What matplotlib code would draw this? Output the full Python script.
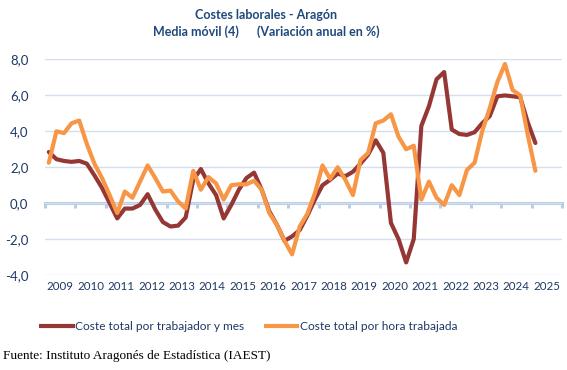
import numpy as np
import matplotlib
matplotlib.use("Agg")
import matplotlib.pyplot as plt

# Media movil (4), variacion anual en %, trimestral 2009T1 - 2025T1
years = list(range(2009, 2026))
trabajador_mes = [2.85, 2.45, 2.35, 2.3, 2.35, 2.2, 1.55, 0.85, 0.0, -0.85, -0.3, -0.3, -0.1,
                  0.5, -0.35, -1.05, -1.3, -1.25, -0.8, 1.3, 1.9, 1.1, 0.45, -0.85, -0.1, 0.75,
                  1.4, 1.7, 0.75, -0.45, -1.2, -2.1, -1.85, -1.5, -0.7, 0.2, 1.0, 1.3, 1.65,
                  1.5, 1.75, 2.2, 2.7, 3.5, 2.8, -1.1, -2.0, -3.3, -2.0, 4.3, 5.4, 6.9, 7.3,
                  4.1, 3.85, 3.8, 3.95, 4.45, 4.85, 5.95, 6.0, 5.95, 5.9, 4.5, 3.35]
hora_trabajada = [2.25, 4.0, 3.9, 4.45, 4.6, 3.3, 2.2, 1.4, 0.45, -0.55, 0.65, 0.3, 1.2,
                  2.1, 1.4, 0.65, 0.7, 0.1, -0.3, 1.8, 0.75, 1.45, 1.1, 0.2, 1.0, 1.05,
                  1.05, 1.25, 0.75, -0.55, -1.2, -2.1, -2.85, -1.3, -0.6, 0.55, 2.1, 1.35, 2.0,
                  1.3, 0.45, 2.4, 2.8, 4.45, 4.6, 4.95, 3.7, 3.0, 3.2, 0.2, 1.2, 0.3, -0.1,
                  1.0, 0.45, 1.85, 2.25, 4.0, 5.3, 6.75, 7.75, 6.3, 6.0, 3.8, 1.8]
yticks = [-4, -2, 0, 2, 4, 6, 8]

navy = "#1F3864"
title_c = "#1F497D"
grid_c = "#D3DFF0"
zero_c = "#B9CDE5"
c_trab = "#953735"
c_hora = "#F79646"

plt.rcParams['font.family'] = ['Lato', 'DejaVu Sans']

fig = plt.figure(figsize=(5.67, 3.70), dpi=100)
ax = fig.add_axes([45/567, 1 - 275/370, 517/567, 215.5/370])

x = np.arange(len(trabajador_mes))
ax.plot(x, trabajador_mes, color=c_trab, lw=3.0, solid_joinstyle='round',
        solid_capstyle='round', label='Coste total por trabajador y mes', zorder=3)
ax.plot(x, hora_trabajada, color=c_hora, lw=3.0, solid_joinstyle='round',
        solid_capstyle='round', label='Coste total por hora trabajada', zorder=4)

nq = 4 * len(years)
ax.set_xlim(-0.5, nq - 0.5)
ax.set_ylim(-4, 8)
ax.set_yticks(yticks)
ax.yaxis.set_major_formatter(matplotlib.ticker.FuncFormatter(lambda v, p: ('%.1f' % v).replace('.', ',')))
ax.grid(axis='y', color=grid_c, lw=1.0, zorder=0)
ax.tick_params(axis='y', length=0, labelsize=9.5, labelcolor=navy, pad=12)

for s in ['top', 'right', 'left']:
    ax.spines[s].set_visible(False)
ax.spines['bottom'].set_position(('data', 0))
ax.spines['bottom'].set_color(zero_c)
ax.spines['bottom'].set_linewidth(2.2)
ax.spines['bottom'].set_zorder(1)
ax.set_xticks(np.arange(-0.5, nq, 4))
ax.tick_params(axis='x', which='major', direction='out', length=3.5, width=2.2,
               color=zero_c, labelbottom=False)

sec = ax.secondary_xaxis('bottom')
sec.set_xticks(np.arange(1.5, nq, 4))
sec.set_xticklabels([str(y) for y in years])
sec.tick_params(length=0, labelsize=8.3, labelcolor=navy, pad=4)
sec.spines['bottom'].set_visible(False)

fig.text(266/567, 1 - 15/370, 'Costes laborales - Aragón', ha='center', va='center',
         fontsize=9, fontweight='bold', color=title_c)
fig.text(266/567, 1 - 32/370, 'Media móvil (4)      (Variación anual en %)', ha='center',
         va='center', fontsize=9, fontweight='bold', color=title_c)

handles, labels = ax.get_legend_handles_labels()
leg = fig.legend(handles, labels, loc='center left', bbox_to_anchor=(39/567, 1 - 327/370),
                 ncol=2, frameon=False, fontsize=8.6, handlelength=3.0, handletextpad=0.05,
                 columnspacing=1.6, labelcolor=navy, borderaxespad=0, borderpad=0)
for h in leg.get_lines():
    h.set_linewidth(3.0)
    h.set_solid_capstyle('butt')

fig.text(3/567, 1 - 356/370, 'Fuente: Instituto Aragonés de Estadística (IAEST)', ha='left',
         va='center', fontsize=9.5, family='Liberation Serif', color='black')

fig.savefig('out.png', dpi=100)
